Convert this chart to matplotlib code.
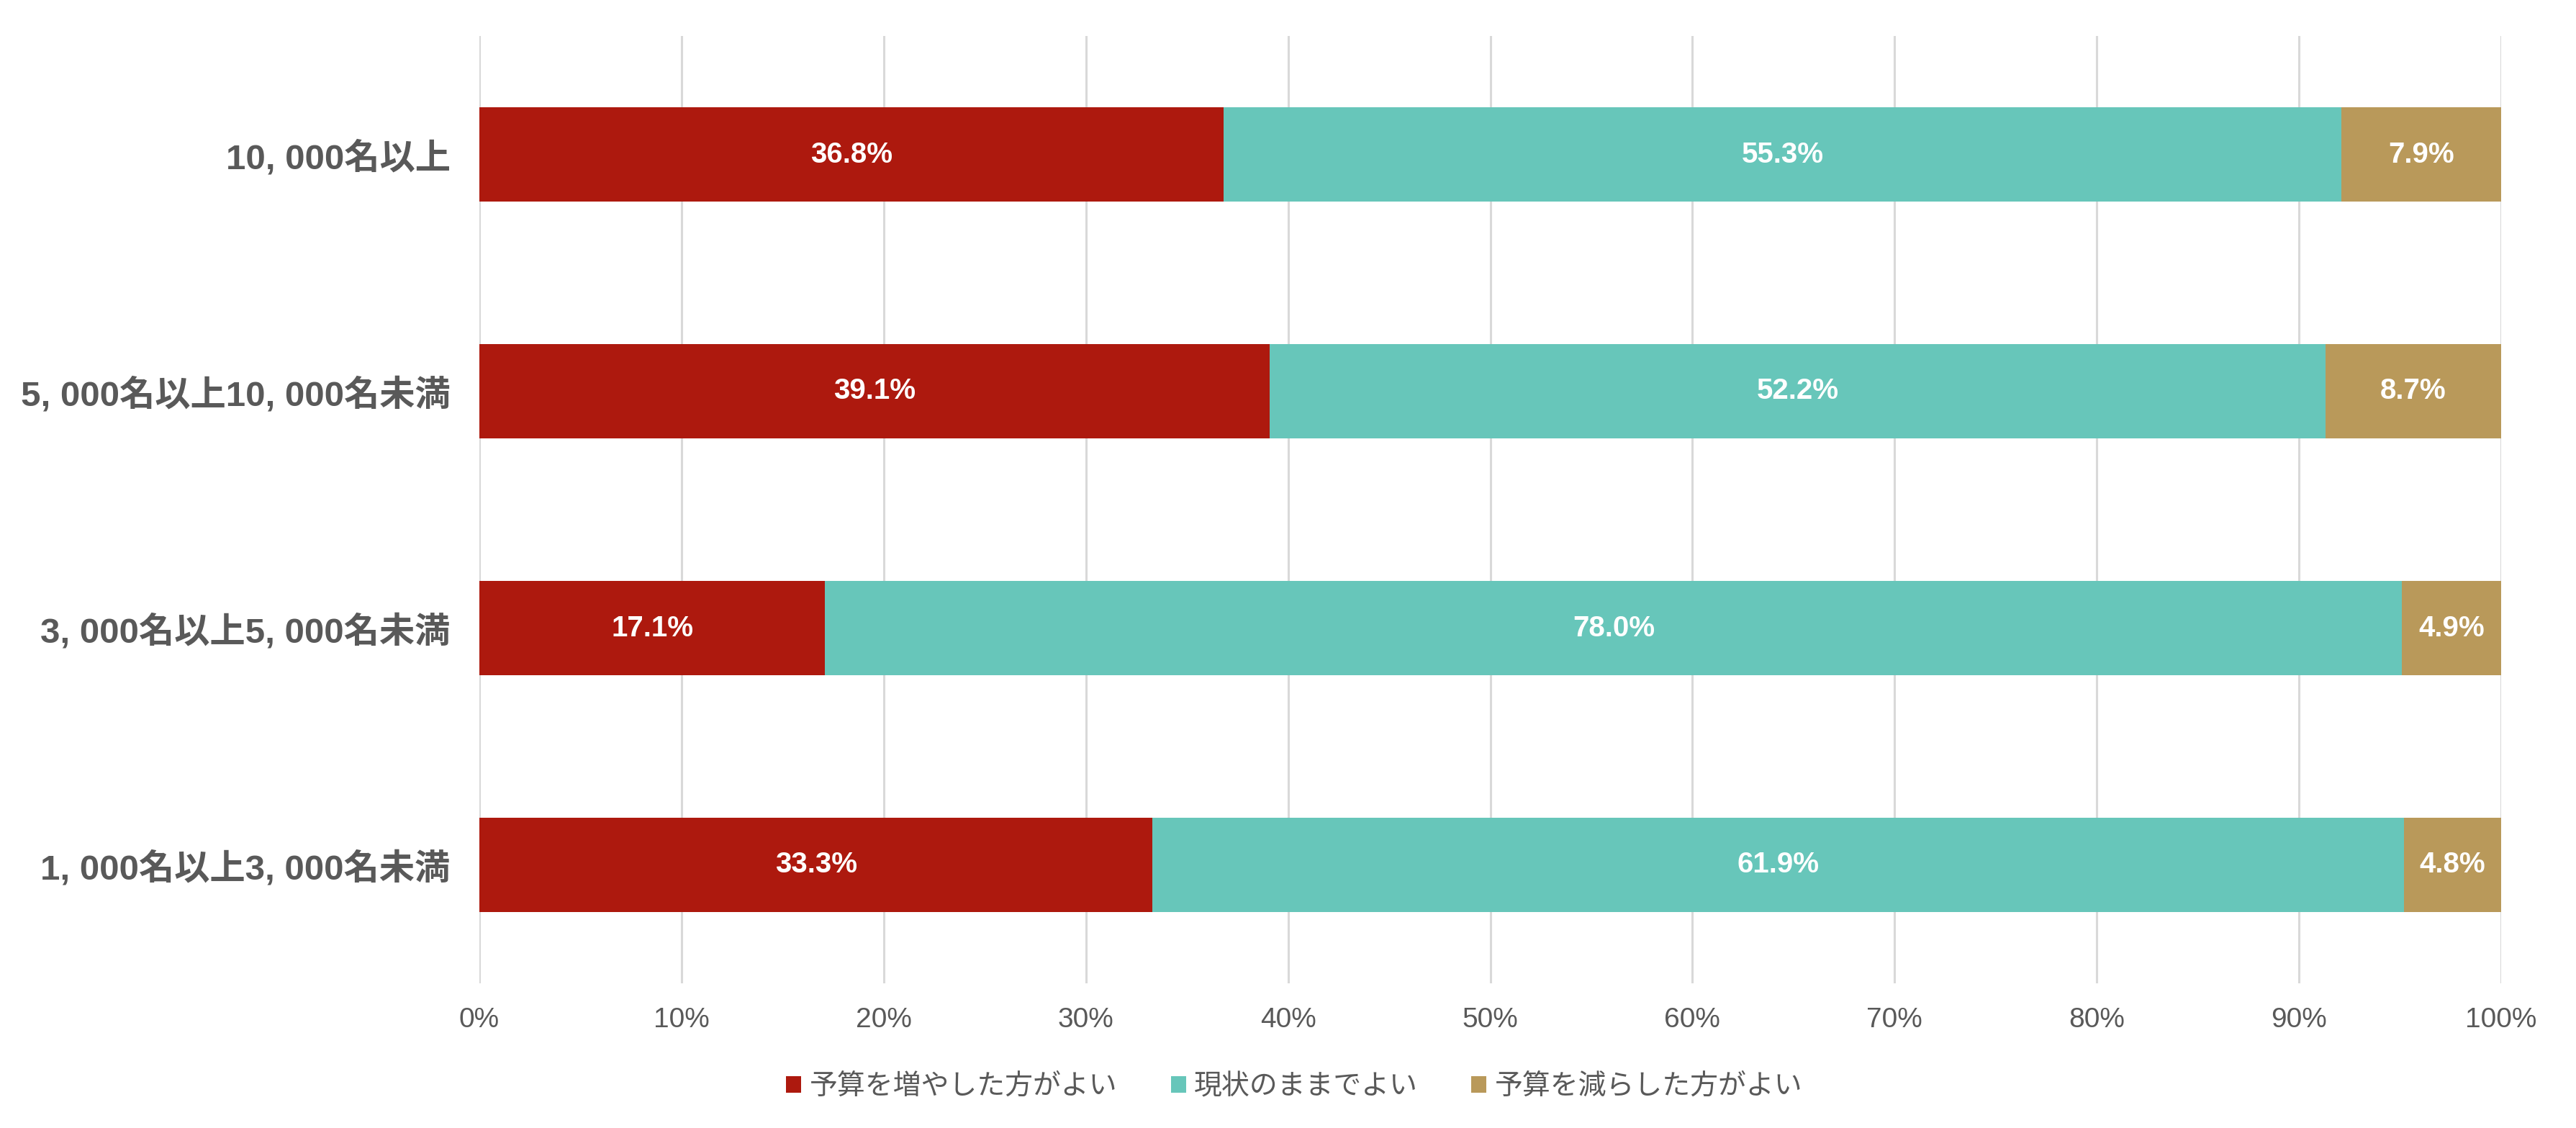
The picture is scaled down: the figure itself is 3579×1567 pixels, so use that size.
import matplotlib.pyplot as plt
import numpy as np

plt.rcParams['font.family'] = ['Liberation Sans', 'Noto Sans CJK JP', 'DejaVu Sans']

categories = ["1, 000名以上3, 000名未満", "3, 000名以上5, 000名未満",
              "5, 000名以上10, 000名未満", "10, 000名以上"]
series_names = ["予算を増やした方がよい", "現状のままでよい", "予算を減らした方がよい"]
increase = [33.3, 17.1, 39.1, 36.8]
keep = [61.9, 78.0, 52.2, 55.3]
decrease = [4.8, 4.9, 8.7, 7.9]
colors = ['#AD190E', '#67C6BA', '#B9995A']
xticks = [0, 10, 20, 30, 40, 50, 60, 70, 80, 90, 100]

gray = '#595959'
W, H = 3579, 1567
fig = plt.figure(figsize=(W / 100, H / 100), dpi=100)
ax = fig.add_axes([666 / W, 1 - 1366 / H, (3475 - 666) / W, (1366 - 50) / H])

y = np.arange(len(categories))
left = np.zeros(len(categories))
for vals, name, c in zip([increase, keep, decrease], series_names, colors):
    bars = ax.barh(y, vals, left=left, height=0.4, color=c, label=name, zorder=3)
    ax.bar_label(bars, labels=[f"{v:.1f}%" for v in vals], label_type='center',
                 color='white', fontsize=29, fontweight='bold')
    left += np.array(vals)

ax.set_xlim(0, 100)
ax.set_ylim(-0.5, len(categories) - 0.5)
ax.set_xticks(xticks)
ax.set_xticklabels([f"{t}%" for t in xticks], fontsize=28, color=gray)
ax.set_yticks(y)
ax.set_yticklabels(categories, fontsize=35.5, fontweight='bold', color=gray)
ax.tick_params(axis='x', length=0, pad=24)
ax.tick_params(axis='y', length=0, pad=29)
ax.grid(axis='x', color='#D9D9D9', linewidth=2.2, zorder=0)
for s in ax.spines.values():
    s.set_visible(False)

fig.legend(loc='center', bbox_to_anchor=(0.5025, 1 - 1510 / H), ncol=3, frameon=False,
           fontsize=28, labelcolor=gray, handlelength=0.54, handleheight=0.54,
           handletextpad=0.3, columnspacing=1.9)

fig.savefig('out.png', dpi=100)
